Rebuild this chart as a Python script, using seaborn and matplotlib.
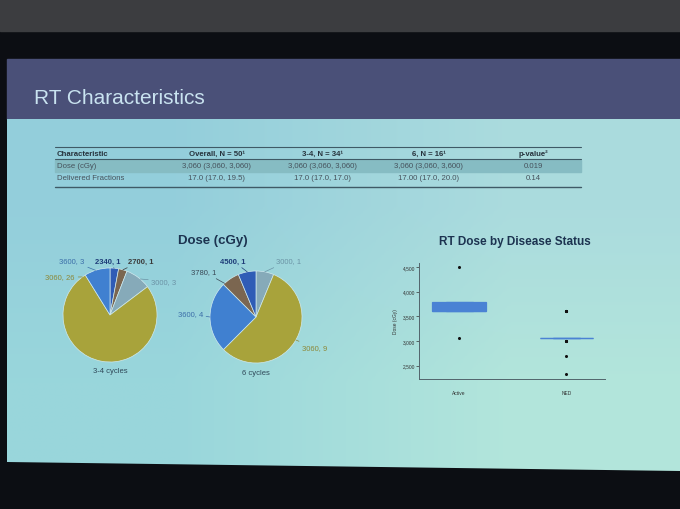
import numpy as np
import pandas as pd
import matplotlib
matplotlib.use("Agg")
import matplotlib.pyplot as plt
from matplotlib.patches import Polygon, Rectangle
from matplotlib.ticker import MultipleLocator, StrMethodFormatter
import seaborn as sns

# -----------------------------
# data
# -----------------------------
table_header = ["Characteristic", "Overall, N = 50¹", "3-4, N = 34¹", "6, N = 16¹", "p-value²"]
row_dose = ["Dose (cGy)", "3,060 (3,060, 3,060)", "3,060 (3,060, 3,060)", "3,060 (3,060, 3,600)", "0.019"]
row_fractions = ["Delivered Fractions", "17.0 (17.0, 19.5)", "17.0 (17.0, 17.0)", "17.00 (17.0, 20.0)", "0.14"]

# dose pies: dose level (cGy) and number of patients
doses_34 = [2340, 2700, 3000, 3060, 3600]
counts_34 = [1, 1, 3, 26, 3]
doses_6 = [3000, 3060, 3600, 3780, 4500]
counts_6 = [1, 9, 4, 1, 1]

# RT dose by disease status: dose level and number of patients
status_order = ["Active", "NED"]
active_doses = [3060, 3600, 3780, 4500]
active_counts = [1, 2, 1, 1]
ned_doses = [2340, 2700, 3000, 3060, 3600]
ned_counts = [1, 1, 4, 34, 5]

slice_colors = {2340: "#2f5cb6", 2700: "#7b6650", 3000: "#86aab9", 3060: "#a8a33b",
                3600: "#4080d0", 3780: "#7b6650", 4500: "#2f5cb6"}
label_colors = {2340: "#1e3c78", 2700: "#3a3a3a", 3000: "#6b93a5", 3060: "#8c8838",
                3600: "#3b6ea8", 3780: "#3a4a58", 4500: "#1e3c78"}
bold_labels = [2340, 2700, 4500]

W, H = 680, 510
sns.set_theme(style="white")
plt.rcParams["font.family"] = ["Liberation Sans", "DejaVu Sans"]

fig = plt.figure(figsize=(6.8, 5.1), dpi=100)


def fig_box(x0, y0, x1, y1):
    # pixel box with top-left origin -> figure fraction
    return [x0 / W, 1 - y1 / H, (x1 - x0) / W, (y1 - y0) / H]


# -----------------------------
# room + projected slide
# -----------------------------
bg = fig.add_axes([0, 0, 1, 1])
bg.set_xlim(0, W)
bg.set_ylim(H, 0)
bg.axis("off")

bg.add_patch(Rectangle((0, 0), W, H, color="#0c0e13"))
bg.add_patch(Rectangle((0, 0), W, 32, color="#3c3d40"))
bg.add_patch(Rectangle((7, 60), W - 7, 60, color="#4a5078"))

body = Polygon([(7, 120), (W, 120), (W, 472), (7, 463)], closed=True, facecolor="none", edgecolor="none")
bg.add_patch(body)
grad = np.array([[[0.58, 0.81, 0.86], [0.67, 0.86, 0.87]],
                 [[0.60, 0.84, 0.86], [0.70, 0.90, 0.86]]])
img = bg.imshow(grad, extent=(7, W, 472, 120), interpolation="bilinear", aspect="auto", zorder=1)
img.set_clip_path(body)

bg.text(34, 98, "RT Characteristics", fontsize=15, color="#c9e3f0", va="center", zorder=3)

# table
col_x = [57, 217, 322, 429, 533]
bg.add_patch(Rectangle((55, 160.5), 526, 12, color="#86bcc3", zorder=2))
for yy, lw in [(147.5, 0.8), (160, 0.8), (188, 1.0)]:
    bg.plot([55, 581], [yy, yy], color="#3f5a66", lw=lw, zorder=3)
for row, yy, weight, col in [(table_header, 154.5, "bold", "#26323c"),
                             (row_dose, 166.5, "normal", "#46525c"),
                             (row_fractions, 179, "normal", "#46525c")]:
    for i, txt in enumerate(row):
        bg.text(col_x[i], yy, txt, fontsize=5.6, fontweight=weight, color=col,
                ha="left" if i == 0 else "center", va="center", zorder=3)

bg.text(213, 241, "Dose (cGy)", fontsize=9.5, fontweight="bold", color="#1c3350",
        ha="center", va="center", zorder=3)
bg.text(515, 242, "RT Dose by Disease Status", fontsize=8.5, fontweight="bold", color="#1c3350",
        ha="center", va="center", zorder=3)
bg.text(110, 372, "3-4 cycles", fontsize=5.5, color="#2f4858", ha="center", va="center", zorder=3)
bg.text(256, 374, "6 cycles", fontsize=5.5, color="#2f4858", ha="center", va="center", zorder=3)


# -----------------------------
# pies
# -----------------------------
def dose_pie(box, radius_px, doses, counts, label_pos, anchor_deg):
    ax = fig.add_axes(fig_box(*box))
    ax.set_facecolor("none")
    ax.pie(counts, colors=[slice_colors[d] for d in doses], startangle=90,
           counterclock=False, radius=1,
           wedgeprops=dict(edgecolor="#cfe9ee", linewidth=0.5))
    half = (box[2] - box[0]) / 2 / radius_px
    ax.set_xlim(-half, half)
    ax.set_ylim(-half, half)
    ax.axis("off")
    for d, n, (tx, ty), a in zip(doses, counts, label_pos, anchor_deg):
        a = np.deg2rad(a)
        ax.annotate(f"{d}, {n}", xy=(np.cos(a), np.sin(a)), xytext=(tx, ty),
                    fontsize=5.5, color=label_colors[d],
                    fontweight="bold" if d in bold_labels else "normal",
                    ha="center", va="center", annotation_clip=False,
                    arrowprops=dict(arrowstyle="-", lw=0.5, color=label_colors[d],
                                    shrinkA=0, shrinkB=0))
    return ax


dose_pie((25, 231, 195, 401), 47, doses_34, counts_34,
         [(-0.04, 1.15), (0.66, 1.15), (1.15, 0.72), (-1.06, 0.81), (-0.81, 1.15)],
         [85, 74, 50, 126, 108])
dose_pie((171, 233, 341, 403), 46, doses_6, counts_6,
         [(0.70, 1.22), (1.28, -0.67), (-1.43, 0.07), (-1.13, 0.98), (-0.50, 1.22)],
         [79, -30, 180, 133, 101])

# -----------------------------
# box plot
# -----------------------------
records = []
for status, levels, counts in [("Active", active_doses, active_counts), ("NED", ned_doses, ned_counts)]:
    for d, n in zip(levels, counts):
        records += [(status, d)] * n
df = pd.DataFrame(records, columns=["Status", "Dose (cGy)"])

bx = fig.add_axes(fig_box(419, 264, 605, 380))
sns.boxplot(data=df, x="Status", y="Dose (cGy)", order=status_order, ax=bx,
            color="#4a82d4", saturation=1, width=0.5, linewidth=0.9, linecolor="#4a82d4",
            fliersize=1.2, flierprops=dict(marker="o", markerfacecolor="#111111", markeredgecolor="#111111"))
bx.set_facecolor("none")
bx.set_xlim(-0.374, 1.36)
bx.set_ylim(2230, 4580)
bx.yaxis.set_major_locator(MultipleLocator(500))
bx.yaxis.set_major_formatter(StrMethodFormatter("{x:,.0f}"))
sns.despine(ax=bx)
for side in ["left", "bottom"]:
    bx.spines[side].set_color("#52646c")
    bx.spines[side].set_linewidth(0.7)
bx.tick_params(axis="y", left=True, length=2, width=0.5, labelsize=3.5, colors="#333333", pad=1)
bx.tick_params(axis="x", bottom=False, labelsize=3.5, colors="#333333", pad=2)
bx.set_xlabel("")
bx.set_ylabel("Dose (cGy)", fontsize=3.5, color="#333333", labelpad=3)

fig.savefig("out.png", dpi=100)
